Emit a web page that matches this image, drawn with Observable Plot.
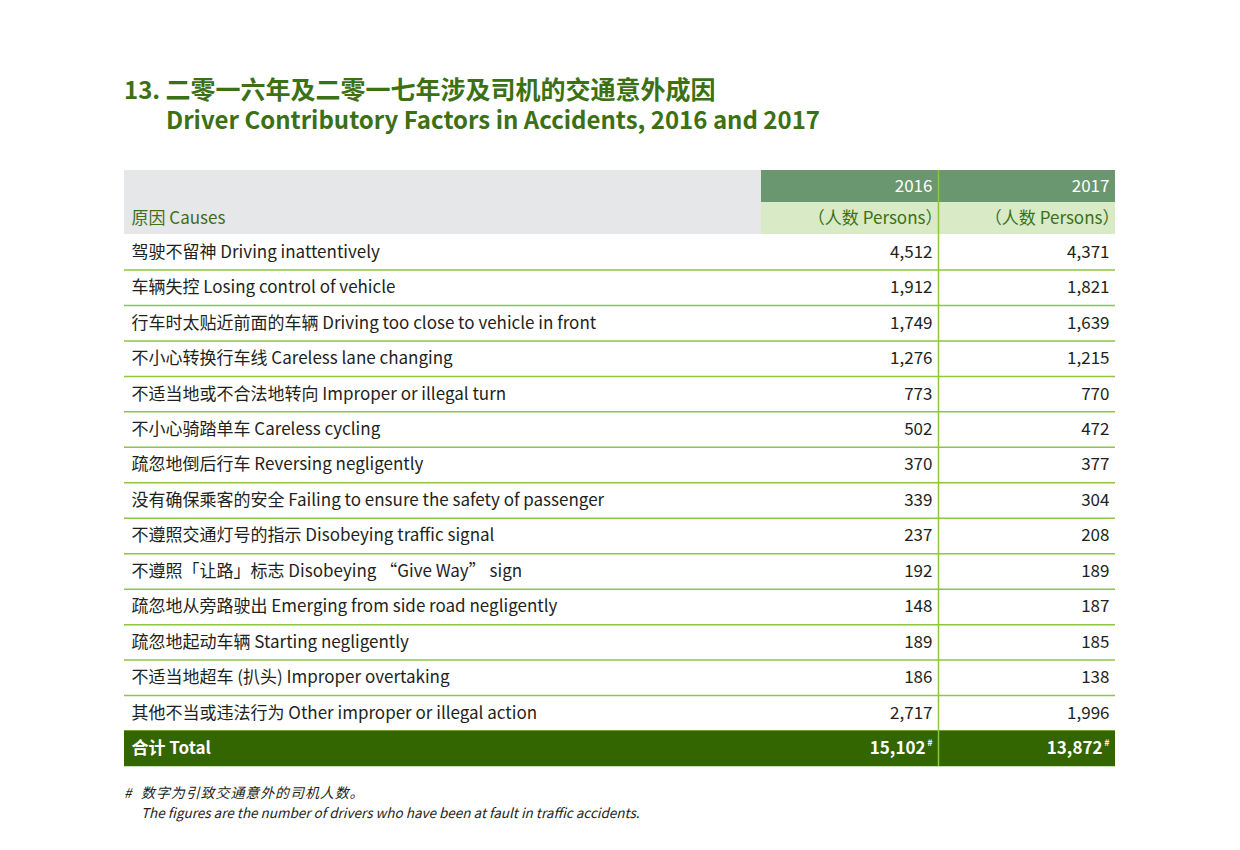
<!DOCTYPE html>
<html>
<head>
<meta charset="utf-8">
<script src="https://cdn.jsdelivr.net/npm/d3@7"></script>
<script src="https://cdn.jsdelivr.net/npm/@observablehq/plot@0.6"></script>
<style>
  html, body { margin: 0; padding: 0; background: #fff; }
  body { position: relative; width: 1240px; height: 850px; overflow: hidden;
         font-family: "Noto Sans CJK SC", "Noto Sans", sans-serif; }
  .title { position: absolute; color: #3b7014; font-weight: 700; font-size: 24px; line-height: 28px; height: 28px; white-space: nowrap; }
  .note { position: absolute; color: #231f20; font-style: italic; font-size: 13.5px; line-height: 18px; white-space: nowrap; }
  #chart { position: absolute; left: 0; top: 170px; }
</style>
</head>
<body>
<div class="title" style="left:124px; top:74px;">13. <span style="font-size:25px; line-height:28px;">二零一六年及二零一七年涉及司机的交通意外成因</span></div>
<div class="title" style="left:166px; top:105px;">Driver Contributory Factors in Accidents, 2016 and 2017</div>
<div id="chart"></div>
<div class="note" style="left:124px; top:783px;">#</div>
<div class="note" style="left:141px; top:783px; font-size:14px; letter-spacing:0.9px;">数字为引致交通意外的司机人数。</div>
<div class="note" style="left:141px; top:803px;">The figures are the number of drivers who have been at fault in traffic accidents.</div>
<script>
// ---- Data ----
const causesZh = [
  "驾驶不留神", "车辆失控", "行车时太贴近前面的车辆", "不小心转换行车线",
  "不适当地或不合法地转向", "不小心骑踏单车", "疏忽地倒后行车", "没有确保乘客的安全",
  "不遵照交通灯号的指示", "不遵照「让路」标志", "疏忽地从旁路驶出", "疏忽地起动车辆",
  "不适当地超车 (扒头)", "其他不当或违法行为"
];
const causesEn = [
  "Driving inattentively", "Losing control of vehicle", "Driving too close to vehicle in front",
  "Careless lane changing", "Improper or illegal turn", "Careless cycling", "Reversing negligently",
  "Failing to ensure the safety of passenger", "Disobeying traffic signal", "Disobeying “Give Way” sign",
  "Emerging from side road negligently", "Starting negligently", "Improper overtaking",
  "Other improper or illegal action"
];
const values2016 = [4512, 1912, 1749, 1276, 773, 502, 370, 339, 237, 192, 148, 189, 186, 2717];
const values2017 = [4371, 1821, 1639, 1215, 770, 472, 377, 304, 208, 189, 187, 185, 138, 1996];
const years = ["2016", "2017"];
const totals = [15102, 13872];
const headerCauses = "原因 Causes";
const headerUnit = "（人数 Persons）";
const totalLabel = "合计 Total";
const totalMark = "#";

// ---- Layout (scale units) ----
const colEdges = [0, 637, 814, 991];     // x: causes | 2016 | 2017
const hu = 0.9025;                        // header sub-row height in data-row units
const nRows = causesZh.length;
const font = "'Noto Sans CJK SC', 'Noto Sans', sans-serif";
const fs = 17;
const C = {
  gray: "#e6e7e8", headDark: "#6a9670", headLight: "#d8eac6", total: "#336600",
  lime: "#8dc63f", green: "#3b7014", ink: "#231f20"
};

const rows = causesZh.map((zh, i) => ({
  i, label: zh + " " + causesEn[i], v: [values2016[i], values2017[i]]
}));
const cols = years.map((y, j) => ({ j, year: y, total: totals[j], x1: colEdges[j + 1], x2: colEdges[j + 2] }));
const fmt = d3.format(",");
const c0 = () => colEdges[0];
const cEnd = () => colEdges[3];

const plot = Plot.plot({
  width: 1240, height: 597,
  marginLeft: 124, marginRight: 125, marginTop: 0, marginBottom: 1,
  x: { domain: [colEdges[0], colEdges[3]], axis: null },
  y: { domain: [-2 * hu, nRows + 1], range: [0, 596], axis: null },
  marks: [
    // header backgrounds
    Plot.rect([0], { x1: c0, x2: () => colEdges[1], y1: () => -2 * hu, y2: () => 0, fill: C.gray }),
    Plot.rect(cols, { x1: "x1", x2: "x2", y1: () => -2 * hu, y2: () => -hu, fill: C.headDark }),
    Plot.rect(cols, { x1: "x1", x2: "x2", y1: () => -hu, y2: () => 0, fill: C.headLight }),
    // row separators
    Plot.ruleY(d3.range(1, nRows + 1), { y: d => d, x1: c0, x2: cEnd, stroke: C.lime, strokeWidth: 1.5 }),
    // total row
    Plot.rect([0], { x1: c0, x2: cEnd, y1: () => nRows, y2: () => nRows + 1, fill: C.total }),
    Plot.ruleY([nRows + 1], { y: d => d, x1: c0, x2: cEnd, stroke: "#c9dcb8", strokeWidth: 1 }),
    // column divider
    Plot.ruleX([colEdges[2]], { x: d => d, y1: () => -2 * hu, y2: () => nRows + 1, stroke: C.lime, strokeWidth: 1.5 }),
    // header texts
    Plot.text([headerCauses], { x: c0, y: () => -hu / 2, text: d => d, textAnchor: "start", dx: 7,
      fill: C.green, fontSize: fs, fontFamily: font }),
    Plot.text(cols, { x: "x2", y: () => -1.5 * hu, text: "year", textAnchor: "end", dx: -6,
      fill: "#fff", fontSize: fs, fontFamily: font }),
    Plot.text(cols, { x: "x2", y: () => -0.5 * hu, text: () => headerUnit, textAnchor: "end", dx: 4,
      fill: C.green, fontSize: fs, fontFamily: font }),
    // body texts
    Plot.text(rows, { x: c0, y: d => d.i + 0.5, text: "label", textAnchor: "start", dx: 7,
      fill: C.ink, fontSize: fs, fontFamily: font }),
    ...cols.map(c => Plot.text(rows, { x: () => c.x2, y: d => d.i + 0.5, text: d => fmt(d.v[c.j]),
      textAnchor: "end", dx: -6, fill: C.ink, fontSize: fs, fontFamily: font })),
    // total texts
    Plot.text([totalLabel], { x: c0, y: () => nRows + 0.5, text: d => d, textAnchor: "start", dx: 7,
      fill: "#fff", fontSize: fs, fontWeight: 700, fontFamily: font }),
    Plot.text(cols, { x: "x2", y: () => nRows + 0.5, text: d => fmt(d.total), textAnchor: "end", dx: -13,
      fill: "#fff", fontSize: fs, fontWeight: 700, fontFamily: font }),
    Plot.text(cols, { x: "x2", y: () => nRows + 0.5, text: () => totalMark, textAnchor: "end", dx: -6, dy: -6,
      fill: "#fff", fontSize: 9, fontWeight: 700, fontFamily: font })
  ]
});
document.getElementById("chart").appendChild(plot);
</script>
</body>
</html>
